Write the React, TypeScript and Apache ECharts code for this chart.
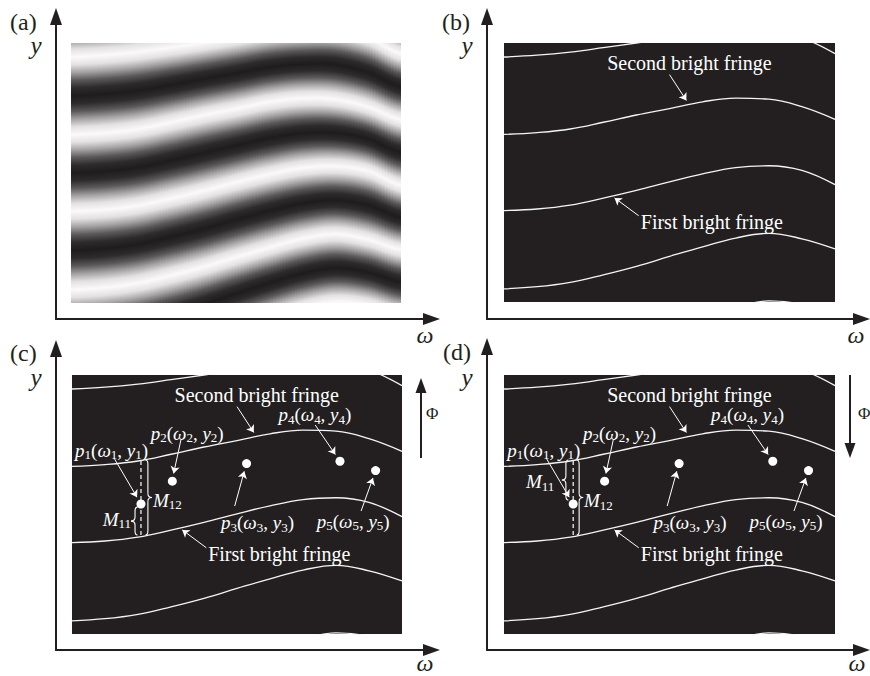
import React, { useEffect, useRef } from 'react';
import * as echarts from 'echarts';

const SERIF = 'Liberation Serif, Times New Roman, serif';
const DARK = '#231f20';

// ω samples across each image (0 = left edge, 1 = right edge)
const OMEGA = [0, 0.1, 0.2, 0.3, 0.4, 0.5, 0.6, 0.7, 0.8, 0.9, 1.0];
// bright-fringe centre lines: y (0 = bottom edge of image, 1 = top edge)
const FRINGE_TOP = [0.946, 0.953, 0.965, 0.982, 1.0, 1.02, 1.04, 1.05, 1.05, 1.02, 0.959];
const FRINGE_SECOND = [0.647, 0.654, 0.668, 0.694, 0.722, 0.747, 0.773, 0.787, 0.783, 0.754, 0.705];
const FRINGE_FIRST = [0.353, 0.359, 0.374, 0.401, 0.431, 0.464, 0.495, 0.519, 0.526, 0.508, 0.453];
const FRINGE_BOTTOM = [0.051, 0.059, 0.076, 0.105, 0.138, 0.176, 0.213, 0.247, 0.265, 0.244, 0.205];
const FRINGE_LOWEST = [-0.25, -0.24, -0.22, -0.19, -0.15, -0.105, -0.06, -0.02, 0.004, -0.008, -0.045];
const FRINGES = [FRINGE_TOP, FRINGE_SECOND, FRINGE_FIRST, FRINGE_BOTTOM, FRINGE_LOWEST];

// sample points p1..p5
const POINT_NAMES = ['1', '2', '3', '4', '5'];
const POINT_W = [0.209, 0.304, 0.529, 0.812, 0.92];
const POINT_Y = [0.502, 0.59, 0.658, 0.667, 0.631];

// vertical spans at ω1 (first fringe → second fringe), and M11 in (c) / (d)
const M_SPAN = [0.382, 0.672];
const M11_SPAN_C = [0.382, 0.49];
const M11_SPAN_D = [0.517, 0.672];

const PANEL_LETTERS = ['(a)', '(b)', '(c)', '(d)'];
const FRINGE_NAMES = ['Second bright fringe', 'First bright fringe'];

// grayscale profile across a fringe period (distance from bright centre → gray level)
const PROFILE_D = [0, 0.1, 0.2, 0.3, 0.4, 0.5];
const PROFILE_G = [252, 228, 165, 92, 46, 31];

// ---------- layout (pixels / normalized image coords) ----------
const PANELS = [
  { axes: { left: 56, top: 16.5, width: 375.5, height: 302.5 }, img: { left: 71, top: 43, width: 330, height: 260 }, letter: [10, 22], yLab: [36, 45], wLab: [425, 335] },
  { axes: { left: 487, top: 16.5, width: 374.5, height: 302.5 }, img: { left: 504, top: 43, width: 331, height: 259 }, letter: [442, 22], yLab: [467, 45], wLab: [856, 335] },
  { axes: { left: 56, top: 348.5, width: 375.5, height: 301.5 }, img: { left: 72, top: 375, width: 330, height: 259 }, letter: [10, 353], yLab: [36, 377], wLab: [425, 663] },
  { axes: { left: 487, top: 346.5, width: 374.5, height: 303.5 }, img: { left: 504, top: 375, width: 331, height: 259 }, letter: [443, 352], yLab: [467, 377], wLab: [857, 663] },
];
const FRINGE_LABEL_POS = [[0.56, 0.923], [0.628, 0.309]];
const FRINGE_ARROWS = [[0.5, 0.878, 0.551, 0.778], [0.407, 0.333, 0.334, 0.402]];
const POINT_LABEL_POS = [[0.12, 0.71], [0.349, 0.776], [0.562, 0.429], [0.736, 0.846], [0.852, 0.436]];
const POINT_ARROWS = [
  [0.128, 0.678, 0.197, 0.528],
  [0.33, 0.749, 0.308, 0.62],
  [0.493, 0.494, 0.522, 0.628],
  [0.737, 0.807, 0.798, 0.693],
  [0.876, 0.475, 0.912, 0.602],
];

function sampleFringe(arr: number[], w: number) {
  const n = OMEGA.length;
  const step = OMEGA[1] - OMEGA[0];
  const t = (w - OMEGA[0]) / step;
  let i = Math.floor(t);
  if (i >= n - 1) i = n - 2;
  if (i < 0) i = 0;
  const u = t - i;
  const p0 = arr[Math.max(i - 1, 0)], p1 = arr[i], p2 = arr[i + 1], p3 = arr[Math.min(i + 2, n - 1)];
  return 0.5 * (2 * p1 + (-p0 + p2) * u + (2 * p0 - 5 * p1 + 4 * p2 - p3) * u * u + (-p0 + 3 * p1 - 3 * p2 + p3) * u * u * u);
}

function grayAt(d: number) {
  for (let k = 0; k < PROFILE_D.length - 1; k++) {
    if (d <= PROFILE_D[k + 1]) {
      const u = (d - PROFILE_D[k]) / (PROFILE_D[k + 1] - PROFILE_D[k]);
      const g = Math.round(PROFILE_G[k] + (PROFILE_G[k + 1] - PROFILE_G[k]) * u);
      return `rgb(${g},${Math.max(g - 3, 0)},${Math.max(g - 2, 0)})`;
    }
  }
  const g = PROFILE_G[PROFILE_G.length - 1];
  return `rgb(${g},${g - 3},${g - 2})`;
}

const RICH = {
  f: { font: `20px ${SERIF}`, fill: '#fff', lineHeight: 22 },
  n: { font: `19px ${SERIF}`, fill: '#fff', lineHeight: 22 },
  i: { font: `italic 19px ${SERIF}`, fill: '#fff', lineHeight: 22 },
  s: { font: `13px ${SERIF}`, fill: '#fff', lineHeight: 9, verticalAlign: 'bottom' },
};
const pLabel = (k: string) => `{i|p}{s|${k}}{n|(}{i|ω}{s|${k}}{n|, }{i|y}{s|${k}}{n|)}`;
const mLabel = (k: string) => `{i|M}{s|${k}}`;
const plain = (t: string) => `{f|${t}}`;

function buildOption() {
  const grid: any[] = [];
  const xAxis: any[] = [];
  const yAxis: any[] = [];
  const series: any[] = [];
  const graphic: any[] = [];

  const axisCommon = (gi: number) => ({
    gridIndex: gi,
    type: 'value',
    min: 0,
    max: 1,
    axisLine: { show: true, onZero: false, symbol: ['none', 'triangle'], symbolSize: [12, 17], lineStyle: { color: DARK, width: 2 } },
    axisTick: { show: false },
    axisLabel: { show: false },
    splitLine: { show: false },
  });

  PANELS.forEach((p, pi) => {
    const ga = pi * 2;
    const gi = pi * 2 + 1;
    grid.push({ ...p.axes, containLabel: false });
    grid.push({ ...p.img, containLabel: false, show: pi > 0, backgroundColor: DARK, borderWidth: 0 });
    xAxis.push(axisCommon(ga));
    yAxis.push(axisCommon(ga));
    xAxis.push({ gridIndex: gi, type: 'value', min: 0, max: 1, show: false });
    yAxis.push({ gridIndex: gi, type: 'value', min: 0, max: 1, show: false });

    graphic.push({ type: 'text', x: p.letter[0], y: p.letter[1], silent: true, style: { text: PANEL_LETTERS[pi], font: `24px ${SERIF}`, fill: DARK, align: 'left', verticalAlign: 'middle' } });
    graphic.push({ type: 'text', x: p.yLab[0], y: p.yLab[1], silent: true, style: { text: 'y', font: `italic 25px ${SERIF}`, fill: DARK, align: 'center', verticalAlign: 'middle' } });
    graphic.push({ type: 'text', x: p.wLab[0], y: p.wLab[1], silent: true, style: { text: 'ω', font: `italic 24px ${SERIF}`, fill: DARK, align: 'center', verticalAlign: 'middle' } });

    if (pi === 0) {
      const N = 111;
      const half = 0.5 / (N - 1);
      const cols = Array.from({ length: N }, (_, i) => [i / (N - 1), 0.5]);
      series.push({
        type: 'custom',
        xAxisIndex: gi,
        yAxisIndex: gi,
        clip: true,
        silent: true,
        data: cols,
        renderItem: (params: any, api: any) => {
          const w = api.value(0);
          const ys = FRINGES.map((f) => sampleFringe(f, w));
          const ext = [ys[0] + (ys[0] - ys[1]), ...ys, ys[4] - (ys[3] - ys[4])];
          const yTop = (ext[0] + ext[1]) / 2;
          const yBot = (ext[ext.length - 2] + ext[ext.length - 1]) / 2;
          const stops: any[] = [{ offset: 0, color: grayAt(0.5) }];
          for (let j = 0; j < ext.length - 1; j++) {
            for (let k = 0; k < 10; k++) {
              const f = k / 10;
              const yv = ext[j] + (ext[j + 1] - ext[j]) * f;
              if (yv <= yTop && yv >= yBot) {
                const off = Math.min(1, Math.max(0, (yTop - yv) / (yTop - yBot)));
                stops.push({ offset: off, color: grayAt(Math.min(f, 1 - f)) });
              }
            }
          }
          stops.push({ offset: 1, color: grayAt(0.5) });
          const a = api.coord([w - half, yTop]);
          const b = api.coord([w + half, yBot]);
          return {
            type: 'rect',
            shape: { x: a[0], y: a[1], width: b[0] - a[0] + 0.8, height: b[1] - a[1] },
            style: { fill: new echarts.graphic.LinearGradient(0, 0, 0, 1, stops) },
          };
        },
      });
      return;
    }

    // fringe lines
    FRINGES.forEach((f) => {
      series.push({
        type: 'line',
        xAxisIndex: gi,
        yAxisIndex: gi,
        data: OMEGA.map((w, i) => [w, f[i]]),
        smooth: 0.4,
        showSymbol: false,
        silent: true,
        clip: true,
        lineStyle: { color: '#f4f4f4', width: 1.3 },
      });
    });

    const texts: { w: number; y: number; t: string }[] = [
      { w: FRINGE_LABEL_POS[0][0], y: FRINGE_LABEL_POS[0][1], t: plain(FRINGE_NAMES[0]) },
      { w: FRINGE_LABEL_POS[1][0], y: FRINGE_LABEL_POS[1][1], t: plain(FRINGE_NAMES[1]) },
    ];
    const arrows: number[][] = [...FRINGE_ARROWS];

    if (pi >= 2) {
      const isC = pi === 2;
      // dashed line at ω1
      series.push({
        type: 'line',
        xAxisIndex: gi,
        yAxisIndex: gi,
        data: [[POINT_W[0], M_SPAN[0]], [POINT_W[0], M_SPAN[1]]],
        showSymbol: false,
        silent: true,
        lineStyle: { color: '#fff', width: 1.2, type: [4, 3] },
      });
      // braces
      const m11 = isC ? M11_SPAN_C : M11_SPAN_D;
      const braces = isC
        ? [[0.23, M_SPAN[0], M_SPAN[1], 1], [0.191, m11[0], m11[1], -1]]
        : [[0.227, M_SPAN[0], M_SPAN[1], 1], [0.187, m11[0], m11[1], -1]];
      series.push({
        type: 'custom',
        xAxisIndex: gi,
        yAxisIndex: gi,
        silent: true,
        data: braces,
        renderItem: (params: any, api: any) => {
          const pb = api.coord([api.value(0), api.value(1)]);
          const pt = api.coord([api.value(0), api.value(2)]);
          const dir = api.value(3);
          const x = pb[0];
          const top = pt[1];
          const bot = pb[1];
          const mid = (top + bot) / 2;
          const e = x - 2.5 * dir;
          const tip = x + 4 * dir;
          const r = Math.min(4, (bot - top) / 5);
          const st = { stroke: '#fff', fill: null, lineWidth: 1.1 };
          return {
            type: 'group',
            children: [
              { type: 'bezierCurve', shape: { x1: e, y1: top, cpx1: x, cpy1: top, x2: x, y2: top + r }, style: st },
              { type: 'line', shape: { x1: x, y1: top + r, x2: x, y2: mid - r }, style: st },
              { type: 'bezierCurve', shape: { x1: x, y1: mid - r, cpx1: x, cpy1: mid, x2: tip, y2: mid }, style: st },
              { type: 'bezierCurve', shape: { x1: tip, y1: mid, cpx1: x, cpy1: mid, x2: x, y2: mid + r }, style: st },
              { type: 'line', shape: { x1: x, y1: mid + r, x2: x, y2: bot - r }, style: st },
              { type: 'bezierCurve', shape: { x1: x, y1: bot - r, cpx1: x, cpy1: bot, x2: e, y2: bot }, style: st },
            ],
          };
        },
      });
      // points
      series.push({
        type: 'scatter',
        xAxisIndex: gi,
        yAxisIndex: gi,
        silent: true,
        symbolSize: 9,
        itemStyle: { color: '#fff', opacity: 1 },
        data: POINT_W.map((w, i) => [w, POINT_Y[i]]),
      });
      POINT_NAMES.forEach((k, i) => {
        texts.push({ w: POINT_LABEL_POS[i][0], y: POINT_LABEL_POS[i][1], t: pLabel(k) });
        arrows.push(POINT_ARROWS[i]);
      });
      if (isC) {
        texts.push({ w: 0.289, y: 0.517, t: mLabel('12') });
        texts.push({ w: 0.136, y: 0.444, t: mLabel('11') });
      } else {
        texts.push({ w: 0.285, y: 0.514, t: mLabel('12') });
        texts.push({ w: 0.109, y: 0.587, t: mLabel('11') });
      }
      // Φ arrow
      if (isC) {
        graphic.push({ type: 'line', silent: true, shape: { x1: 421, y1: 458, x2: 421, y2: 388 }, style: { stroke: DARK, lineWidth: 2 } });
        graphic.push({ type: 'polygon', silent: true, shape: { points: [[421, 378], [415.5, 393], [426.5, 393]] }, style: { fill: DARK } });
        graphic.push({ type: 'text', x: 426, y: 413, silent: true, style: { text: 'Φ', font: `17px ${SERIF}`, fill: DARK, align: 'left', verticalAlign: 'middle' } });
      } else {
        graphic.push({ type: 'line', silent: true, shape: { x1: 850, y1: 375, x2: 850, y2: 448 }, style: { stroke: DARK, lineWidth: 2 } });
        graphic.push({ type: 'polygon', silent: true, shape: { points: [[850, 458], [844.5, 443], [855.5, 443]] }, style: { fill: DARK } });
        graphic.push({ type: 'text', x: 858, y: 413, silent: true, style: { text: 'Φ', font: `17px ${SERIF}`, fill: DARK, align: 'left', verticalAlign: 'middle' } });
      }
    }

    // annotation arrows
    series.push({
      type: 'lines',
      coordinateSystem: 'cartesian2d',
      xAxisIndex: gi,
      yAxisIndex: gi,
      silent: true,
      symbol: ['none', 'arrow'],
      symbolSize: 7,
      itemStyle: { color: '#fff' },
      lineStyle: { color: '#fff', width: 1, opacity: 1, curveness: 0 },
      data: arrows.map((a) => ({ coords: [[a[0], a[1]], [a[2], a[3]]] })),
    });
    // annotation texts
    series.push({
      type: 'custom',
      xAxisIndex: gi,
      yAxisIndex: gi,
      silent: true,
      data: texts.map((t, i) => [t.w, t.y, i]),
      renderItem: (params: any, api: any) => {
        const pt = api.coord([api.value(0), api.value(1)]);
        const item = texts[api.value(2)];
        return {
          type: 'text',
          x: pt[0],
          y: pt[1],
          style: { text: item.t, rich: RICH, fill: '#fff', font: `19px ${SERIF}`, align: 'center', verticalAlign: 'middle' },
        };
      },
    });
  });

  return { animation: false, backgroundColor: '#fff', grid, xAxis, yAxis, series, graphic };
}

export default function App() {
  const ref = useRef<HTMLDivElement>(null);
  useEffect(() => {
    const chart = echarts.init(ref.current as HTMLDivElement, undefined, { renderer: 'svg' });
    chart.setOption(buildOption() as any);
    return () => chart.dispose();
  }, []);
  return <div ref={ref} style={{ position: 'absolute', left: 0, top: 0, width: 870, height: 676, background: '#fff' }} />;
}
